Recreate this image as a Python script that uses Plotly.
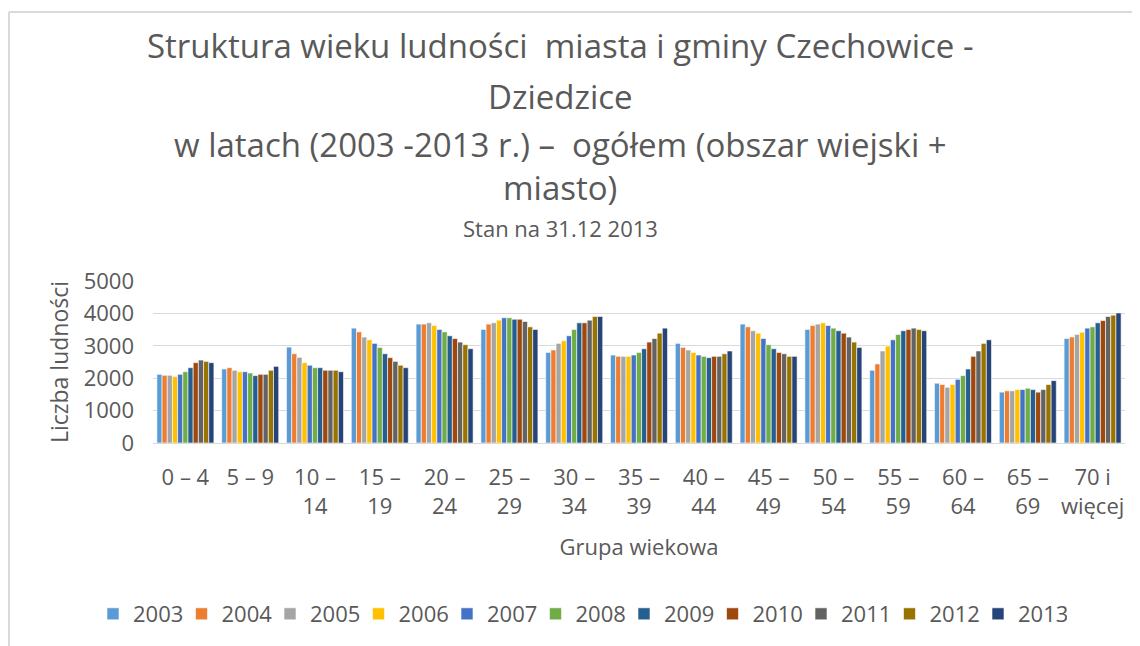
import plotly.graph_objects as go

categories = ["0 – 4", "5 – 9", "10 –<br>14", "15 –<br>19", "20 –<br>24", "25 –<br>29",
              "30 –<br>34", "35 –<br>39", "40 –<br>44", "45 –<br>49", "50 –<br>54",
              "55 –<br>59", "60 –<br>64", "65 –<br>69", "70 i<br>więcej"]

years = ["2003", "2004", "2005", "2006", "2007", "2008", "2009", "2010", "2011", "2012", "2013"]

v2003 = [2120, 2285, 2960, 3545, 3670, 3505, 2795, 2715, 3075, 3670, 3505, 2245, 1845, 1570, 3225]
v2004 = [2090, 2325, 2755, 3430, 3670, 3670, 2870, 2675, 2950, 3585, 3625, 2440, 1805, 1610, 3270]
v2005 = [2090, 2245, 2645, 3270, 3710, 3710, 3075, 2675, 2870, 3465, 3670, 2840, 1720, 1610, 3350]
v2006 = [2050, 2200, 2480, 3185, 3625, 3790, 3155, 2675, 2795, 3390, 3710, 2990, 1805, 1650, 3420]
v2007 = [2120, 2200, 2400, 3075, 3505, 3865, 3310, 2715, 2715, 3225, 3625, 3185, 1965, 1650, 3545]
v2008 = [2200, 2160, 2325, 2950, 3430, 3865, 3505, 2795, 2675, 3035, 3545, 3350, 2080, 1690, 3585]
v2009 = [2325, 2080, 2325, 2755, 3310, 3820, 3710, 2910, 2635, 2910, 3465, 3465, 2285, 1650, 3710]
v2010 = [2480, 2120, 2245, 2635, 3225, 3820, 3710, 3115, 2675, 2795, 3390, 3505, 2675, 1570, 3780]
v2011 = [2560, 2120, 2245, 2520, 3115, 3750, 3790, 3225, 2675, 2755, 3270, 3545, 2840, 1650, 3905]
v2012 = [2520, 2245, 2245, 2400, 3035, 3585, 3905, 3390, 2755, 2675, 3115, 3505, 3075, 1805, 3945]
v2013 = [2480, 2365, 2200, 2325, 2910, 3505, 3905, 3545, 2840, 2675, 2950, 3465, 3185, 1925, 4015]

series = [v2003, v2004, v2005, v2006, v2007, v2008, v2009, v2010, v2011, v2012, v2013]
colors = ["#5B9BD5", "#ED7D31", "#A5A5A5", "#FFC000", "#4472C4", "#70AD47",
          "#255E91", "#9E480E", "#636363", "#997300", "#264478"]

y_ticks = [0, 1000, 2000, 3000, 4000, 5000]

FONT = "Open Sans"
GREY = "#595959"

fig = go.Figure()
for yr, vals, col in zip(years, series, colors):
    fig.add_trace(go.Bar(
        name=yr, x=categories, y=vals,
        marker=dict(color=col, line=dict(color="white", width=0.6)),
    ))

# page has an 8px body margin: figure starts at page (8, 8)
OFF = 8
W, H = 1132, 638
ML, MR, MT, MB = 145, 15, 273, 203
pw = W - ML - MR
ph = H - MT - MB

def px_x(page_px):
    return (page_px - OFF - ML) / pw

def px_y(page_py):
    return (H - MB - (page_py - OFF)) / ph

fig.update_layout(
    width=W, height=H,
    margin=dict(l=ML, r=MR, t=MT, b=MB, autoexpand=False),
    paper_bgcolor="white", plot_bgcolor="white",
    barmode="group", bargap=0.12, bargroupgap=0,
    font=dict(family=FONT, color=GREY),
    showlegend=True,
    legend=dict(orientation="h", x=px_x(580), xanchor="center",
                y=px_y(614), yanchor="middle",
                font=dict(size=22, color=GREY, family=FONT),
                entrywidth=43.5, entrywidthmode="pixels",
                traceorder="normal", itemwidth=30),
    xaxis=dict(
        tickfont=dict(size=22, color=GREY, family=FONT),
        showline=True, linecolor="#D9D9D9", linewidth=1,
        ticks="", showgrid=False, ticklabelstandoff=15,
        title=dict(text="Grupa wiekowa", font=dict(size=22, color=GREY, family=FONT),
                   standoff=20),
    ),
    yaxis=dict(
        range=[0, 5000], tickvals=y_ticks,
        tickfont=dict(size=22, color=GREY, family=FONT),
        showgrid=True, gridcolor="#D9D9D9", gridwidth=1,
        zeroline=False, showline=False, ticks="", ticklabelstandoff=18,
        title=dict(text="Liczba ludności", font=dict(size=23, color=GREY, family=FONT),
                   standoff=8),
    ),
)

title_lines = [
    ("Struktura wieku ludności  miasta i gminy Czechowice -", 45, 33),
    ("Dziedzice", 97, 33),
    ("w latach (2003 -2013 r.) –  ogółem (obszar wiejski +", 144, 33),
    ("miasto)", 187, 33),
    ("Stan na 31.12 2013", 228, 22),
]
for txt, ypx, sz in title_lines:
    fig.add_annotation(text=txt, xref="paper", yref="paper",
                       x=px_x(560), y=px_y(ypx), xanchor="center", yanchor="middle",
                       showarrow=False, font=dict(size=sz, color=GREY, family=FONT))

# chart frame (left and top edges)
fig.add_shape(type="line", xref="paper", yref="paper",
              x0=px_x(9), x1=px_x(9), y0=px_y(12), y1=px_y(646),
              line=dict(color="#D9D9D9", width=2))
fig.add_shape(type="line", xref="paper", yref="paper",
              x0=px_x(9), x1=px_x(1140), y0=px_y(12), y1=px_y(12),
              line=dict(color="#D9D9D9", width=2))

fig.write_html("out.html")
